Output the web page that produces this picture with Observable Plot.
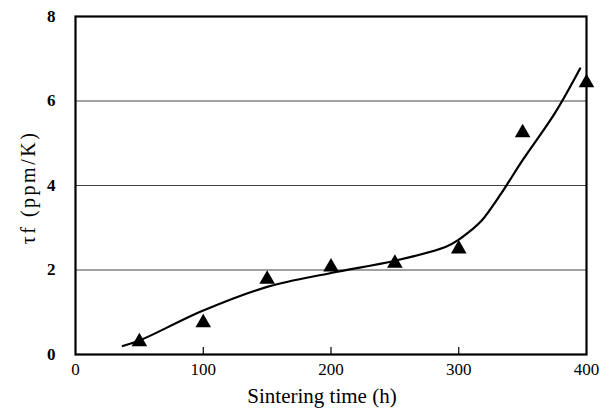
<!DOCTYPE html>
<html>
<head>
<meta charset="utf-8">
<script src="https://cdn.jsdelivr.net/npm/d3@7"></script>
<script src="https://cdn.jsdelivr.net/npm/@observablehq/plot@0.6"></script>
<style>
  html, body { margin: 0; padding: 0; background: #fff; }
</style>
</head>
<body>
<div id="chart"></div>
<script>
// Measured points (triangles)
const hours = [50, 100, 150, 200, 250, 300, 350, 400];
const tauF = [0.3, 0.75, 1.78, 2.07, 2.16, 2.5, 5.25, 6.43];

// Fitted trend curve
const curveHours = [37, 50, 100, 150, 200, 250, 290, 300, 310, 318, 333, 350, 375, 395];
const curveTauF = [0.2, 0.33, 1.04, 1.6, 1.93, 2.22, 2.55, 2.72, 2.95, 3.17, 3.8, 4.6, 5.7, 6.77];

const xTicks = [0, 100, 200, 300, 400];
const xInnerTicks = [100, 200, 300];
const yTicks = [0, 2, 4, 6, 8];
const yGrid = [2, 4, 6];
const xLabel = "Sintering time (h)";
const yLabel = "τf (ppm/K)";

const points = hours.map((h, i) => ({h, v: tauF[i]}));
const curve = curveHours.map((h, i) => ({h, v: curveTauF[i]}));

const serif = "'Liberation Serif', 'DejaVu Serif', 'Times New Roman', serif";

const chart = Plot.plot({
  width: 609,
  height: 418,
  marginLeft: 75,
  marginRight: 23,
  marginTop: 16,
  marginBottom: 64,
  style: {background: "#fff", fontFamily: serif},
  x: {domain: [0, 400]},
  y: {domain: [0, 8]},
  marks: [
    Plot.gridY(yGrid, {stroke: "#444", strokeOpacity: 1, strokeWidth: 1}),
    Plot.axisY({ticks: yTicks, tickSize: 0, tickPadding: 20, fontWeight: "bold", fontSize: 17, label: null}),
    Plot.axisX({ticks: xTicks, tickSize: 0, tickPadding: 8, fontSize: 17, label: null}),
    Plot.axisX({ticks: xInnerTicks, tickSize: -7, text: null, label: null, strokeWidth: 1.2}),
    Plot.text([xLabel], {text: d => d, frameAnchor: "bottom", dx: -9, dy: 48, fontSize: 21, lineAnchor: "bottom"}),
    Plot.text([yLabel], {text: d => d, frameAnchor: "left", dx: -47, dy: 2, rotate: -90, fontSize: 20, textAnchor: "middle", lineAnchor: "middle"}),
    Plot.line(curve, {x: "h", y: "v", curve: "catmull-rom", stroke: "black", strokeWidth: 2.2}),
    Plot.frame({stroke: "black", strokeWidth: 2.2}),
    Plot.dot(points, {x: "h", y: "v", symbol: "triangle", r: 5.8, fill: "black", stroke: "none", clip: false})
  ]
});
chart.setAttribute("font-family", serif);
chart.querySelectorAll("g, text").forEach(t => {
  t.style.fontFamily = serif;
  t.setAttribute("font-family", serif);
  if (t.tagName === "text" && t.textContent === yLabel) t.style.letterSpacing = "2.5px";
});
document.getElementById("chart").appendChild(chart);
</script>
</body>
</html>
